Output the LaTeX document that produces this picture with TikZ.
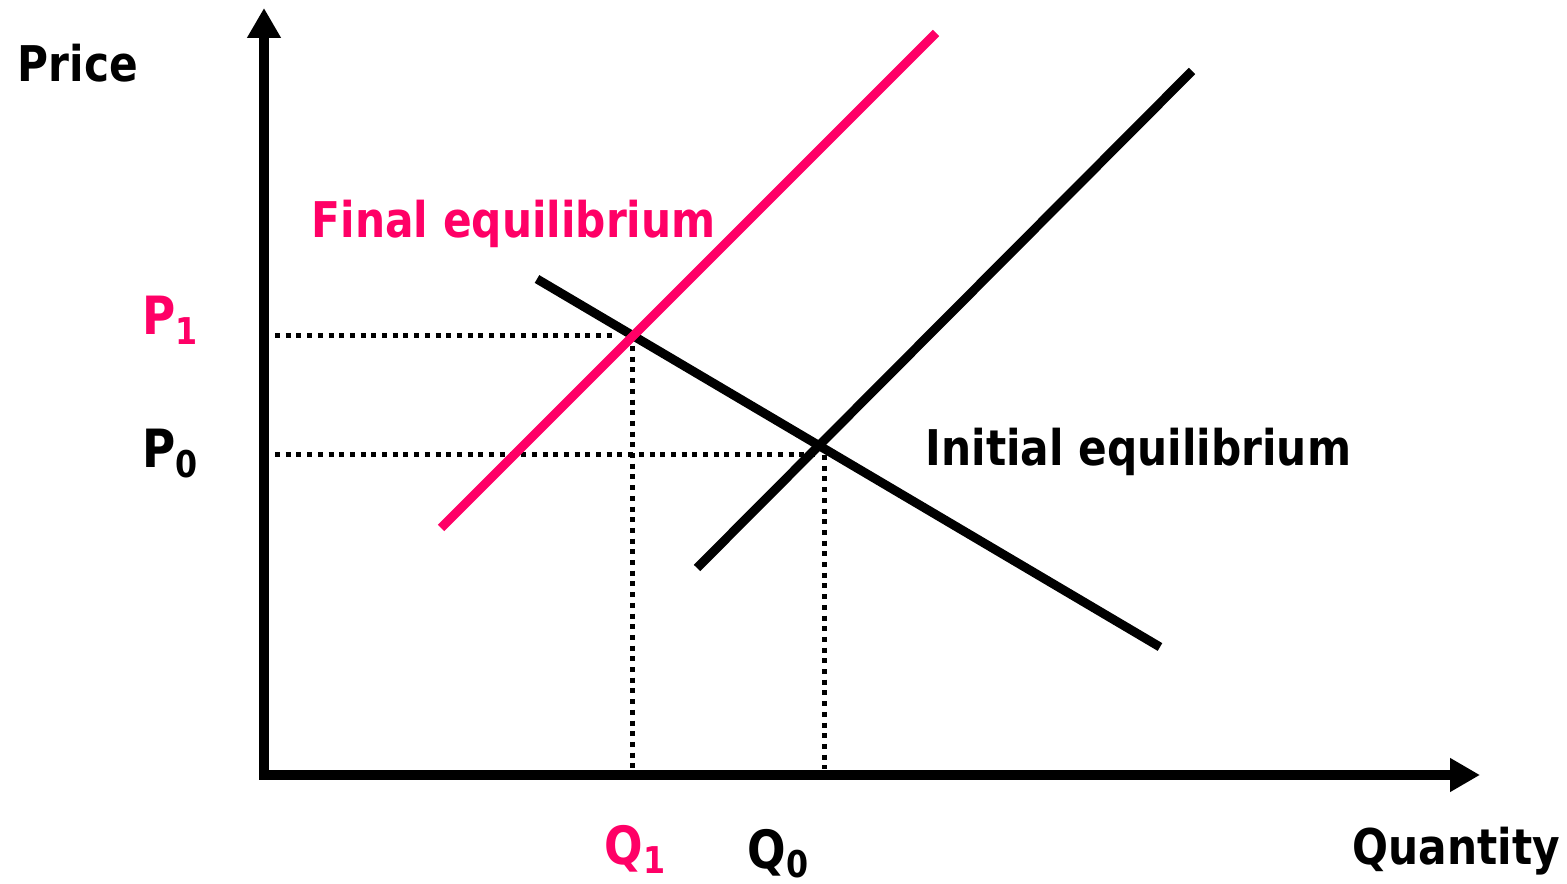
\documentclass[tikz,border=0pt]{standalone}
\usepackage{fontspec}
\setmainfont{DejaVu Sans}[FakeStretch=0.86]
\usepackage{tikz}
\usetikzlibrary{arrows.meta}
\definecolor{eqPink}{RGB}{255,0,102}

\begin{document}
\begin{tikzpicture}[
  axis/.style={line width=0.10cm,line join=miter,
               {Triangle[length=0.30cm,width=0.32cm]}-{Triangle[length=0.30cm,width=0.32cm]}},
  curve/.style={line width=0.09cm},
  guide/.style={line width=0.05cm,dash pattern=on 0.05cm off 0.057cm},
  lbl/.style={anchor=base west,inner sep=0pt,font=\fontsize{14}{16}\selectfont\bfseries},
  tick/.style={lbl,font=\fontsize{15}{17}\selectfont\bfseries}
]
  \useasboundingbox (0,0) rectangle (15.67,8.83);

  % axes
  \coordinate (ytip) at (2.64,8.75);
  \coordinate (O)    at (2.64,1.08);
  \coordinate (xtip) at (14.80,1.08);
  \draw[axis] (ytip) -- (O) -- (xtip);

  % supply, demand and equilibria
  \coordinate (s1a) at (4.41,3.55);  \coordinate (s1b) at (9.36,8.50);
  \coordinate (s0a) at (6.97,3.15);  \coordinate (s0b) at (11.92,8.12);
  \coordinate (da)  at (5.37,6.04);  \coordinate (db)  at (11.60,2.36);
  \coordinate (E1)  at (6.32,5.47);
  \coordinate (E0)  at (8.24,4.28);

  \draw[guide,shorten <=0.11cm,shorten >=0.20cm] (O |- E1) -- (E1);
  \draw[guide,shorten <=0.11cm,shorten >=0.09cm] (O |- E0) -- (E0);
  \draw[guide,shorten <=0.10cm,shorten >=0.06cm] (E1) -- (E1 |- O);
  \draw[guide,shorten >=0.06cm] (E0) -- (E0 |- O);

  \draw[curve] (da) -- (db);
  \draw[curve] (s0a) -- (s0b);
  \draw[curve,eqPink] (s1a) -- (s1b);

  % labels
  \node[lbl] (price) at (0.17,8.01) {Price};
  \node[lbl] (qty)   at (13.52,0.19) {Quantity};
  \node[lbl,eqPink] (final) at (3.11,6.45) {Final equilibrium};
  \node[lbl] (init)  at (9.25,4.17) {Initial equilibrium};
  \node[tick,eqPink] (p1) at (1.42,5.48) {P\textsubscript{1}};
  \node[tick] (p0)    at (1.42,4.15) {P\textsubscript{0}};
  \node[tick,eqPink] (q1) at (6.04,0.19) {Q\textsubscript{1}};
  \node[tick] (q0)    at (7.47,0.15) {Q\textsubscript{0}};
\end{tikzpicture}
\end{document}
